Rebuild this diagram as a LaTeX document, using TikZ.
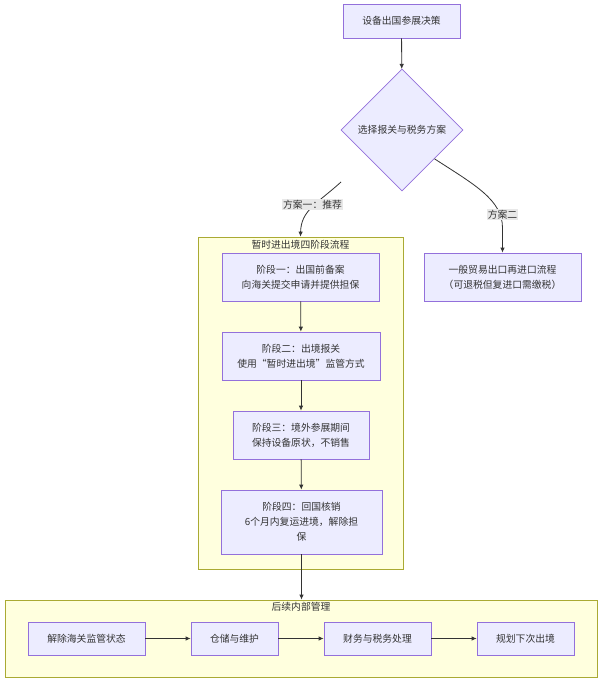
\documentclass[tikz,border=0pt]{standalone}
\usepackage{fontspec}
\setmainfont{Noto Sans CJK SC}
\usetikzlibrary{shapes.geometric,arrows.meta,calc}
\definecolor{nodefill}{HTML}{ECECFF}
\definecolor{nodedraw}{HTML}{9370DB}
\definecolor{clfill}{HTML}{FFFFDE}
\definecolor{cldraw}{HTML}{AAAA33}
\definecolor{edgec}{HTML}{333333}
\definecolor{lblbg}{HTML}{E8E8E8}
\definecolor{txt}{HTML}{333333}
\begin{document}
\begin{tikzpicture}[x=1pt,y=-1pt,
  box/.style={draw=nodedraw,fill=nodefill,line width=0.7pt,inner sep=0pt,align=center,text=txt,font=\fontsize{9.8}{15}\selectfont},
  dia/.style={diamond,draw=nodedraw,fill=nodefill,line width=0.7pt,inner sep=0pt,align=center,text=txt,font=\fontsize{9.8}{15}\selectfont,minimum width=122pt,minimum height=122pt},
  cluster/.style={draw=cldraw,fill=clfill,line width=0.7pt,inner sep=0pt},
  ctitle/.style={text=txt,inner sep=0pt,font=\fontsize{9.8}{12}\selectfont},
  elabel/.style={fill=lblbg,text=txt,inner sep=1.2pt,font=\fontsize{9.8}{12}\selectfont},
  edge/.style={draw=edgec,line width=0.8pt,-{Latex[length=5pt,width=4.5pt]}}
]
\useasboundingbox (0,0) rectangle (602,682);
\fill[white] (0,0) rectangle (602,682);

% clusters
\node[cluster,minimum width=205pt,minimum height=332pt] (g1) at (300.5,403) {};
\node[ctitle] (t1) at (300.5,245) {暂时进出境四阶段流程};
\node[cluster,minimum width=592pt,minimum height=77pt] (g2) at (301,638.5) {};
\node[ctitle] (t2) at (301,607) {后续内部管理};

% top part
\node[box,minimum width=117pt,minimum height=34pt] (top) at (401.5,21) {设备出国参展决策};
\node[dia] (d) at (402,130) {选择报关与税务方案};
\node[box,minimum width=157pt,minimum height=48pt] (r) at (502.5,277) {一般贸易出口再进口流程\\（可退税但复进口需缴税）};

% stages
\node[box,minimum width=157pt,minimum height=48pt] (s1) at (300.5,277) {阶段一：出国前备案\\向海关提交申请并提供担保};
\node[box,minimum width=158pt,minimum height=48pt] (s2) at (301,356) {阶段二：出境报关\\使用“暂时进出境”监管方式};
\node[box,minimum width=136pt,minimum height=48pt] (s3) at (301,435) {阶段三：境外参展期间\\保持设备原状，不销售};
\node[box,minimum width=161pt,minimum height=64pt] (s4) at (301.5,522) {阶段四：回国核销\\6个月内复运进境，解除担\\保};

% bottom row
\node[box,minimum width=117pt,minimum height=33pt] (b1) at (86.5,638.5) {解除海关监管状态};
\node[box,minimum width=87pt,minimum height=33pt] (b2) at (234.5,638.5) {仓储与维护};
\node[box,minimum width=107pt,minimum height=33pt] (b3) at (377.5,638.5) {财务与税务处理};
\node[box,minimum width=97pt,minimum height=33pt] (b4) at (525.5,638.5) {规划下次出境};

% edges
\draw[edge] (top) -- (d);
\coordinate (c1) at (341,182);
\draw[edge] (c1) .. controls (318,203) and (301,210) .. (g1.north);
\node[elabel] (l1) at (312.5,204.5) {方案一：推荐};
\coordinate (c2) at ($(d.east)!0.47!(d.south)$);
\draw[edge] (c2) .. controls (475,185) and (502.5,200) .. (502.5,228) -- (r.north);
\node[elabel] (l2) at (502.5,214.5) {方案二};

\draw[edge] (s1) -- (s2);
\draw[edge] (s2) -- (s3);
\draw[edge] (s3) -- (s4);
\draw[edge] (s4.south) -- (s4.south |- g2.north);
\draw[edge] (b1) -- (b2);
\draw[edge] (b2) -- (b3);
\draw[edge] (b3) -- (b4);
\end{tikzpicture}
\end{document}
